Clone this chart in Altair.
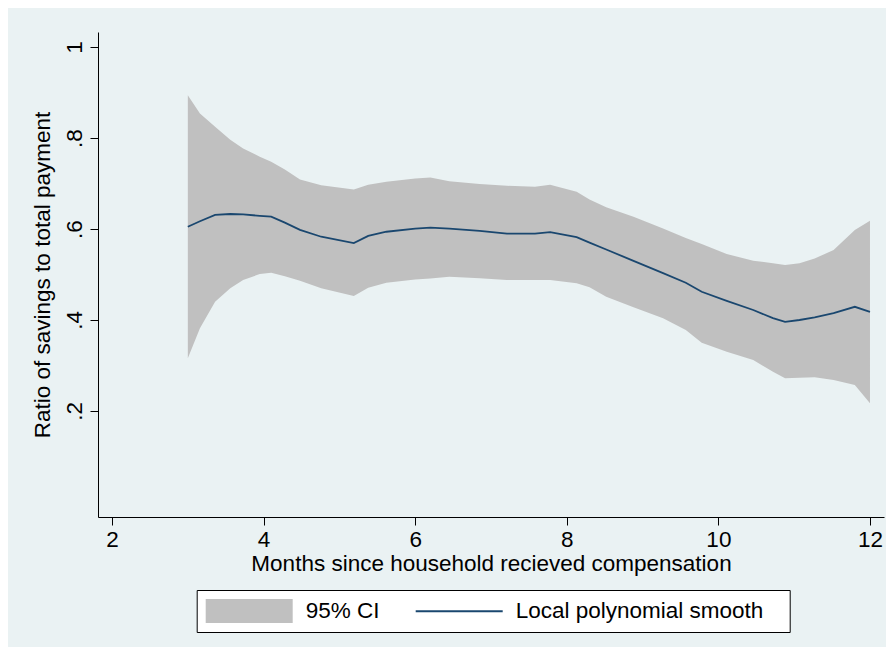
import altair as alt
import pandas as pd

# ---- data ----
months = [3.00, 3.16, 3.36, 3.56, 3.73, 3.95, 4.10, 4.28, 4.48, 4.76, 5.19, 5.38,
          5.62, 6.00, 6.20, 6.45, 6.85, 7.21, 7.58, 7.78, 8.13, 8.30, 8.52, 8.88,
          9.27, 9.57, 9.78, 10.11, 10.46, 10.72, 10.88, 11.07, 11.27, 11.52, 11.80, 12.00]
smooth = [0.605, 0.617, 0.631, 0.633, 0.632, 0.629, 0.627, 0.614, 0.598, 0.583, 0.569, 0.585,
          0.594, 0.601, 0.603, 0.601, 0.596, 0.590, 0.590, 0.593, 0.582, 0.570, 0.555, 0.530,
          0.503, 0.482, 0.462, 0.442, 0.422, 0.404, 0.396, 0.400, 0.406, 0.415, 0.429, 0.418]
ci_low = [0.316, 0.382, 0.440, 0.470, 0.488, 0.501, 0.504, 0.496, 0.486, 0.470, 0.453, 0.471,
          0.482, 0.489, 0.491, 0.495, 0.492, 0.488, 0.488, 0.488, 0.481, 0.472, 0.451, 0.428,
          0.404, 0.378, 0.350, 0.330, 0.312, 0.286, 0.272, 0.273, 0.274, 0.268, 0.257, 0.217]
ci_high = [0.894, 0.854, 0.825, 0.796, 0.777, 0.759, 0.748, 0.731, 0.709, 0.696, 0.687, 0.697,
           0.704, 0.711, 0.713, 0.705, 0.699, 0.695, 0.693, 0.697, 0.682, 0.665, 0.648, 0.627,
           0.601, 0.580, 0.567, 0.545, 0.530, 0.525, 0.521, 0.525, 0.535, 0.554, 0.598, 0.618]

series = ["95% CI", "Local polynomial smooth"]
series_colors = ["#c0c0c0", "#1a476f"]
x_ticks = [2, 4, 6, 8, 10, 12]
y_ticks = [0.2, 0.4, 0.6, 0.8, 1.0]
x_title = "Months since household recieved compensation"
y_title = "Ratio of savings to total payment"

# legend swatch shapes (wide filled bar / thin line), unit = half symbol height
swatches = ["M-1,-1H6.25V1H-1Z", "M-1,-0.09H6.25V0.09H-1Z"]

FONT = "Liberation Sans"
FS = 22.5
BG = "#eaf2f3"

df = pd.DataFrame({"months": months, "smooth": smooth, "lo": ci_low, "hi": ci_high})
legend_df = pd.DataFrame({"series": series})

x_enc = alt.X(
    "months:Q",
    scale=alt.Scale(domain=[1.815, 12.185], nice=False, zero=False),
    axis=alt.Axis(values=x_ticks, title=x_title, grid=False, labelPadding=3,
                  titlePadding=2, format="d"),
)
y_scale = alt.Scale(domain=[-0.033, 1.033], nice=False, zero=False)
y_axis = alt.Axis(
    values=y_ticks, title=y_title, grid=True, gridColor=BG, gridWidth=1.2,
    labelAngle=270, labelAlign="center", labelBaseline="alphabetic", labelPadding=9,
    titlePadding=9,
    labelExpr="datum.value >= 1 ? '1' : replace(format(datum.value, '.1f'), '0.', '.')",
)

band = alt.Chart(df).mark_area(color="#c0c0c0", opacity=1).encode(
    x=x_enc,
    y=alt.Y("lo:Q", scale=y_scale, axis=y_axis),
    y2="hi:Q",
)

line = alt.Chart(df).mark_line(color="#1a476f", strokeWidth=1.8).encode(
    x=x_enc,
    y=alt.Y("smooth:Q", scale=y_scale, axis=y_axis),
)

leg = alt.Legend(
    title=None, orient="none", legendX=98.7, legendY=558, direction="horizontal",
    fillColor="white", strokeColor="black", padding=9,
    labelFont=FONT, labelFontSize=FS, labelColor="black", labelOffset=76,
    labelLimit=600, columnPadding=36, symbolSize=576, symbolStrokeWidth=0,
    symbolOpacity=1,
    labelExpr="datum.label + (datum.label == 'Local polynomial smooth' ? '\u2800' : '')",
)

legend_layer = alt.Chart(legend_df).transform_filter("false").mark_point(
    filled=True, size=576, opacity=1
).encode(
    color=alt.Color("series:N", scale=alt.Scale(domain=series, range=series_colors), legend=leg),
    shape=alt.Shape("series:N", scale=alt.Scale(domain=series, range=swatches), legend=leg),
)

chart = alt.layer(band, line, legend_layer).properties(
    width=786, height=485,
    background=BG,
    autosize=alt.AutoSizeParams(type="none"),
    padding={"left": 90, "top": 24, "right": 2, "bottom": 130},
).configure_view(
    fill="white", strokeWidth=0
).configure_axis(
    labelFont=FONT, titleFont=FONT, labelFontSize=FS, titleFontSize=FS,
    labelColor="black", titleColor="black", titleFontWeight="normal",
    domainColor="black", domainWidth=1, tickColor="black", tickSize=8, tickWidth=1,
)

chart.save("out.html", embed_options={"renderer": "svg", "actions": False})
